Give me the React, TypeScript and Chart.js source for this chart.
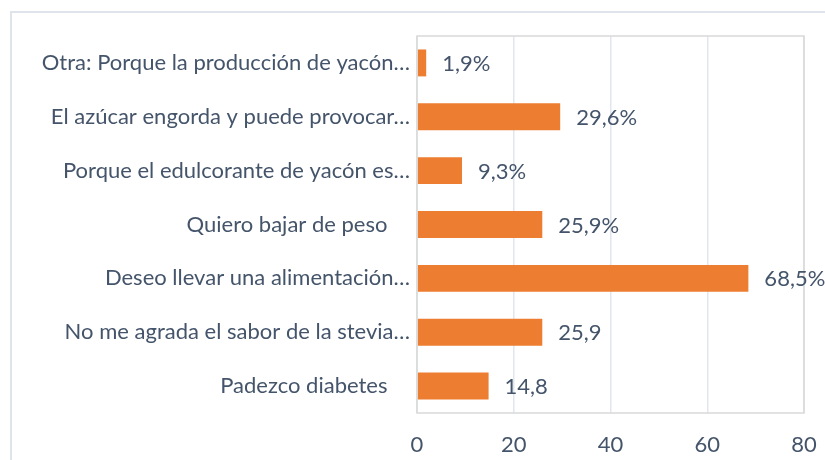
import React, { useEffect, useRef } from "react";
import { Chart, registerables } from "chart.js";

Chart.register(...registerables);

const categories = [
  "Otra: Porque la producción de yacón…",
  "El azúcar engorda y puede provocar…",
  "Porque el edulcorante de yacón es…",
  "Quiero bajar de peso    ",
  "Deseo llevar una alimentación…",
  "No me agrada el sabor de la stevia…",
  "Padezco diabetes    ",
];
const values = [1.9, 29.6, 9.3, 25.9, 68.5, 25.9, 14.8];
const valueLabels = ["1,9%", "29,6%", "9,3%", "25,9%", "68,5%", "25,9", "14,8"];
const xTicks = [0, 20, 40, 60, 80];

const TEXT = "#44546A";
const FONT = "Lato, 'Open Sans', sans-serif";

export default function App() {
  const ref = useRef<HTMLCanvasElement | null>(null);
  useEffect(() => {
    if (!ref.current) return;
    const frame = {
      id: "frame",
      beforeDraw(chart: any) {
        const ctx = chart.ctx;
        ctx.save();
        ctx.strokeStyle = "#dfe3ea";
        ctx.lineWidth = 2;
        ctx.beginPath();
        ctx.moveTo(11, 470);
        ctx.lineTo(11, 12);
        ctx.lineTo(830, 12);
        ctx.stroke();
        ctx.restore();
      },
      afterDatasetsDraw(chart: any) {
        const ctx = chart.ctx;
        const a = chart.chartArea;
        ctx.save();
        ctx.strokeStyle = "#d9d9d9";
        ctx.lineWidth = 1.5;
        ctx.strokeRect(a.left, a.top, a.right - a.left, a.bottom - a.top);
        const meta = chart.getDatasetMeta(0);
        ctx.fillStyle = TEXT;
        ctx.font = `22px ${FONT}`;
        ctx.textBaseline = "middle";
        ctx.textAlign = "left";
        meta.data.forEach((bar: any, i: number) => {
          ctx.fillText(valueLabels[i], bar.x + 16, bar.y + 1);
        });
        ctx.restore();
      },
    };
    const chart = new Chart(ref.current, {
      type: "bar",
      data: {
        labels: categories,
        datasets: [
          {
            data: values,
            backgroundColor: "#ED7D31",
            borderWidth: 0,
            categoryPercentage: 1,
            barPercentage: 0.5,
          },
        ],
      },
      options: {
        indexAxis: "y",
        animation: false,
        responsive: false,
        layout: { padding: { left: 0, right: 21, top: 36, bottom: 0 } },
        plugins: { legend: { display: false }, tooltip: { enabled: false } },
        scales: {
          x: {
            min: 0,
            max: 80,
            afterBuildTicks(axis: any) {
              axis.ticks = xTicks.map((v) => ({ value: v }));
            },
            afterFit(axis: any) {
              axis.height = 47;
              axis.paddingLeft = 0;
              axis.paddingRight = 0;
            },
            grid: { color: "#e1e6ee", lineWidth: 1.5, drawTicks: false },
            border: { display: false },
            ticks: {
              color: TEXT,
              font: { family: FONT, size: 22 },
              padding: 19,
              maxRotation: 0,
            },
          },
          y: {
            afterFit(axis: any) {
              axis.width = 417;
              axis.paddingTop = 0;
              axis.paddingBottom = 0;
            },
            grid: { display: false, drawTicks: false },
            border: { display: false },
            ticks: {
              color: TEXT,
              font: { family: FONT, size: 22 },
              padding: 7,
              autoSkip: false,
            },
          },
        },
      },
      plugins: [frame],
    });
    return () => chart.destroy();
  }, []);
  return (
    <div style={{ position: "fixed", left: 0, top: 0, width: 825, height: 460, background: "#fff" }}>
      <canvas ref={ref} width={825} height={460} style={{ width: 825, height: 460 }} />
    </div>
  );
}
